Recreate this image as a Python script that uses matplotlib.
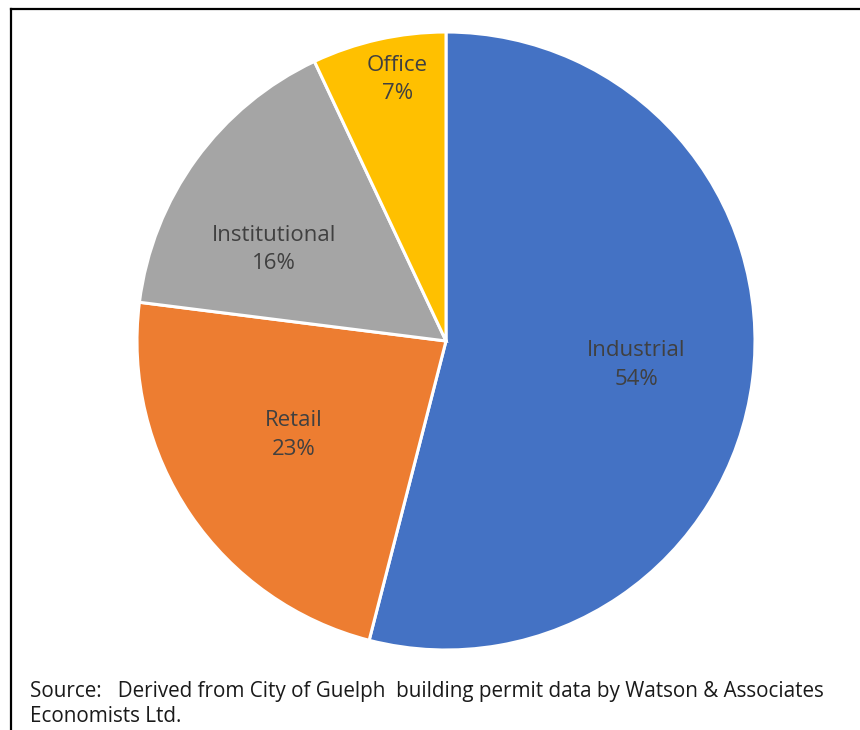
import numpy as np
import matplotlib.pyplot as plt
from matplotlib.lines import Line2D

categories = ["Industrial", "Retail", "Institutional", "Office"]
shares = [54, 23, 16, 7]
colors = ["#4472C4", "#ED7D31", "#A5A5A5", "#FFC000"]

# label placement (radius as fraction of pie, angle shift in degrees from wedge middle)
label_r = [0.62, 0.58, 0.63, 0.86]
label_shift = [0, -2.6, 8, -2]

source = ("Source:   Derived from City of Guelph  building permit data by Watson & Associates\n"
          "Economists Ltd.")

plt.rcParams['font.family'] = ['Open Sans', 'DejaVu Sans']

fig = plt.figure(figsize=(8.6, 7.3), dpi=100)
ax = fig.add_axes([137 / 860, 80 / 730, 618 / 860, 618 / 730])

wedges, _ = ax.pie(shares, colors=colors, startangle=90, counterclock=False,
                   wedgeprops=dict(edgecolor="white", linewidth=2.2))
ax.set_xlim(-1, 1)
ax.set_ylim(-1, 1)
ax.set_aspect("equal")

for w, name, v, r, sh in zip(wedges, categories, shares, label_r, label_shift):
    mid = np.deg2rad((w.theta1 + w.theta2) / 2 + sh)
    ax.text(r * np.cos(mid), r * np.sin(mid), f"{name}\n{v}%",
            ha="center", va="center", fontsize=16, color="#404040",
            linespacing=1.45)

fig.text(30 / 860, 1 - 704 / 730, source, ha="left", va="center",
         fontsize=14.9, color="#1a1a1a", linespacing=1.2)

# frame on the top and left edges
fig.add_artist(Line2D([11 / 860, 1], [1 - 9 / 730, 1 - 9 / 730], color="black", lw=1.6))
fig.add_artist(Line2D([11 / 860, 11 / 860], [0, 1 - 9 / 730], color="black", lw=1.6))

fig.savefig("out.png", dpi=100)
